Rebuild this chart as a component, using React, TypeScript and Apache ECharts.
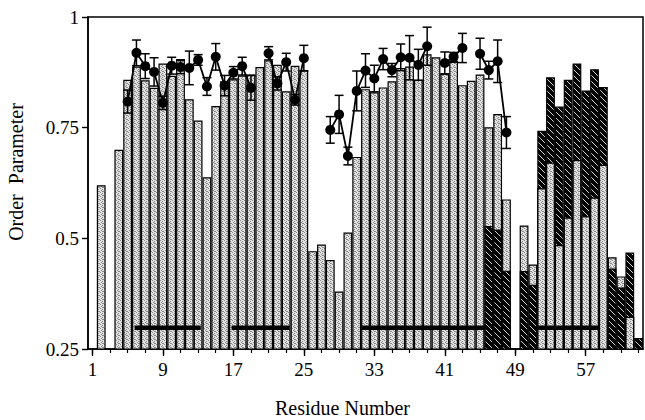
import React, { useEffect, useRef } from 'react';
import * as echarts from 'echarts';

const residues = Array.from({ length: 63 }, (_, i) => String(i + 1));

// grey (stippled) bars, one entry per residue 1..63
const greyBars: (number | null)[] = [
  null, 0.62, null, 0.70, 0.858, 0.888, 0.857, 0.840, 0.895, 0.867,
  0.905, 0.814, 0.766, 0.638, 0.799, 0.855, 0.859, 0.868, 0.870, 0.887,
  0.902, 0.892, 0.832, 0.890, 0.880, 0.471, 0.486, 0.451, 0.380, 0.513,
  0.684, 0.837, 0.830, 0.841, 0.855, 0.885, 0.888, 0.858, 0.916, 0.909,
  0.873, 0.899, 0.846, 0.856, 0.870, 0.751, 0.781, 0.588, null, 0.529,
  0.441, 0.613, 0.671, 0.485, 0.547, 0.677, 0.550, 0.592, 0.666, 0.457,
  0.414, 0.323, null,
];

// black hatched bars
const hatchedResidues = [46, 47, 48, 50, 51, 52, 53, 54, 55, 56, 57, 58, 59, 60, 61, 62, 63];
const hatchedValues = [0.528, 0.520, 0.427, 0.426, 0.395, 0.743, 0.864, 0.798, 0.858, 0.895, 0.834, 0.882, 0.842, 0.432, 0.389, 0.468, 0.275];

// experimental order parameters (circles) with errors
const s2Residues = [
  5, 6, 7, 8, 9, 10, 11, 12, 13, 14, 15, 16, 17, 18, 19,
  21, 22, 23, 24, 25,
  28, 29, 30, 31, 32, 33, 34, 35, 36, 37, 38, 39,
  41, 42, 43,
  45, 46, 47, 48,
];
const s2Values = [
  0.809, 0.919, 0.889, 0.876, 0.806, 0.890, 0.887, 0.885, 0.903, 0.843, 0.910, 0.845, 0.874, 0.889, 0.840,
  0.918, 0.850, 0.898, 0.813, 0.907,
  0.745, 0.780, 0.686, 0.833, 0.879, 0.861, 0.905, 0.880, 0.909, 0.908, 0.892, 0.934,
  0.896, 0.910, 0.930,
  0.917, 0.880, 0.900, 0.739,
];
const s2Errors = [
  0.026, 0.029, 0.028, 0.032, 0.015, 0.019, 0.015, 0.038, 0.012, 0.020, 0.030, 0.023, 0.014, 0.020, 0.028,
  0.015, 0.015, 0.020, 0.012, 0.029,
  0.030, 0.043, 0.020, 0.045, 0.038, 0.030, 0.024, 0.015, 0.030, 0.050, 0.035, 0.043,
  0.025, 0.010, 0.033,
  0.035, 0.020, 0.048, 0.036,
];

// secondary-structure bars (residue positions)
const strandStarts = [5.8, 16.8, 31.6, 51.6];
const strandEnds = [13.3, 23.4, 45.6, 58.5];
const strandLevel = 0.298;

const FONT = 'Liberation Serif, Times New Roman, serif';

function makeGreyPattern() {
  const c = document.createElement('canvas');
  c.width = 4;
  c.height = 4;
  const ctx = c.getContext('2d')!;
  ctx.fillStyle = '#e2e2e2';
  ctx.fillRect(0, 0, 4, 4);
  ctx.fillStyle = '#888888';
  [[0, 0], [2, 1], [1, 2], [3, 3], [2, 3]].forEach(([x, y]) => ctx.fillRect(x, y, 1, 1));
  return { image: c, repeat: 'repeat', imageWidth: 4, imageHeight: 4 };
}

function makeHatchPattern() {
  const n = 6;
  const c = document.createElement('canvas');
  c.width = n;
  c.height = n;
  const ctx = c.getContext('2d')!;
  ctx.fillStyle = '#000';
  ctx.fillRect(0, 0, n, n);
  ctx.fillStyle = '#d0d0d0';
  for (let i = 0; i < n; i++) ctx.fillRect(i, i, 1, 1);
  return { image: c, repeat: 'repeat', imageWidth: n, imageHeight: n };
}

export default function App() {
  const ref = useRef<HTMLDivElement>(null);
  useEffect(() => {
    document.body.style.margin = '0';
    if (!ref.current) return;
    const chart = echarts.init(ref.current, null, { renderer: 'svg' });

    const hatched: (number | null)[] = residues.map(() => null);
    hatchedResidues.forEach((r, i) => { hatched[r - 1] = hatchedValues[i]; });
    const greyFront: (number | null)[] = residues.map((_, i) => {
      const g = greyBars[i];
      const h = hatched[i];
      return g != null && h != null && g < h ? g : null;
    });
    const s2Line: (number | null)[] = residues.map(() => null);
    s2Residues.forEach((r, i) => { s2Line[r - 1] = s2Values[i]; });
    const errData = s2Residues.map((r, i) => [r - 1, s2Values[i], s2Errors[i]]);

    const greyPattern = makeGreyPattern();
    const hatchPattern = makeHatchPattern();

    const barCommon = {
      type: 'bar',
      xAxisIndex: 0,
      yAxisIndex: 0,
      barWidth: '100%',
      barGap: '-100%',
      barCategoryGap: '0%',
    };

    const option: any = {
      animation: false,
      textStyle: { fontFamily: FONT },
      grid: {
        left: 88, right: 2, top: 17, bottom: 71,
        show: true, borderColor: '#000', borderWidth: 1.5,
        backgroundColor: 'transparent',
        outerBoundsMode: 'none',
      },
      xAxis: [
        {
          type: 'category', data: residues, position: 'bottom', boundaryGap: true,
          axisLine: { show: true, lineStyle: { color: '#000', width: 1.5 } },
          axisTick: { show: true, alignWithLabel: true, interval: (i: number) => i % 2 === 0, length: 4, lineStyle: { color: '#000', width: 1.2 } },
          axisLabel: { show: false },
          splitLine: { show: false },
        },
        {
          type: 'category', data: residues, position: 'bottom', boundaryGap: true,
          axisLine: { show: false },
          axisTick: { show: true, alignWithLabel: true, interval: (i: number) => i % 8 === 0, length: 7, lineStyle: { color: '#000', width: 1.4 } },
          axisLabel: { show: true, interval: (i: number) => i % 8 === 0, color: '#000', fontFamily: FONT, fontSize: 19, margin: 11 },
          splitLine: { show: false },
          name: 'Residue Number', nameLocation: 'middle', nameGap: 49,
          nameTextStyle: { color: '#000', fontFamily: FONT, fontSize: 20, padding: [0, 46, 0, 0] },
        },
        { type: 'value', min: 0.5, max: 63.5, show: false },
      ],
      yAxis: {
        type: 'value', min: 0.25, max: 1, interval: 0.25,
        axisLine: { show: true, lineStyle: { color: '#000', width: 1.5 } },
        axisTick: { show: true, inside: false, length: 6, lineStyle: { color: '#000', width: 1.4 } },
        axisLabel: { color: '#000', fontFamily: FONT, fontSize: 19, margin: 9 },
        splitLine: { show: false },
        name: 'Order  Parameter', nameLocation: 'middle', nameGap: 62,
        nameTextStyle: { color: '#000', fontFamily: FONT, fontSize: 20, padding: [0, 0, 0, 22] },
      },
      series: [
        { ...barCommon, name: 'grey', data: greyBars, z: 2, itemStyle: { color: greyPattern, borderColor: '#000', borderWidth: 1.2 } },
        { ...barCommon, name: 'hatched', data: hatched, z: 2, itemStyle: { color: hatchPattern, borderColor: '#000', borderWidth: 1.2 } },
        { ...barCommon, name: 'greyFront', data: greyFront, z: 2, itemStyle: { color: greyPattern, borderColor: '#000', borderWidth: 1.2 } },
        ...strandStarts.map((s, i) => ({
          type: 'line', xAxisIndex: 2, yAxisIndex: 0, z: 3,
          data: [[s, strandLevel], [strandEnds[i], strandLevel]],
          symbol: 'none', lineStyle: { color: '#000', width: 4.5 },
        })),
        {
          type: 'custom', xAxisIndex: 0, yAxisIndex: 0, z: 4,
          data: errData,
          renderItem: (params: any, api: any) => {
            const idx = api.value(0);
            const v = api.value(1);
            const e = api.value(2);
            const p1 = api.coord([idx, v + e]);
            const p2 = api.coord([idx, v - e]);
            const w = 4.5;
            const style = { stroke: '#000', lineWidth: 1.5 };
            return {
              type: 'group',
              children: [
                { type: 'line', shape: { x1: p1[0], y1: p1[1], x2: p2[0], y2: p2[1] }, style },
                { type: 'line', shape: { x1: p1[0] - w, y1: p1[1], x2: p1[0] + w, y2: p1[1] }, style },
                { type: 'line', shape: { x1: p2[0] - w, y1: p2[1], x2: p2[0] + w, y2: p2[1] }, style },
              ],
            };
          },
        },
        {
          type: 'line', xAxisIndex: 0, yAxisIndex: 0, z: 5,
          data: s2Line, connectNulls: false,
          showSymbol: true, showAllSymbol: true,
          symbol: 'circle', symbolSize: 10,
          itemStyle: { color: '#000', borderWidth: 0 },
          lineStyle: { color: '#000', width: 1.8 },
        },
      ],
    };
    chart.setOption(option);
    return () => chart.dispose();
  }, []);
  return <div ref={ref} style={{ width: 645, height: 420 }} />;
}
